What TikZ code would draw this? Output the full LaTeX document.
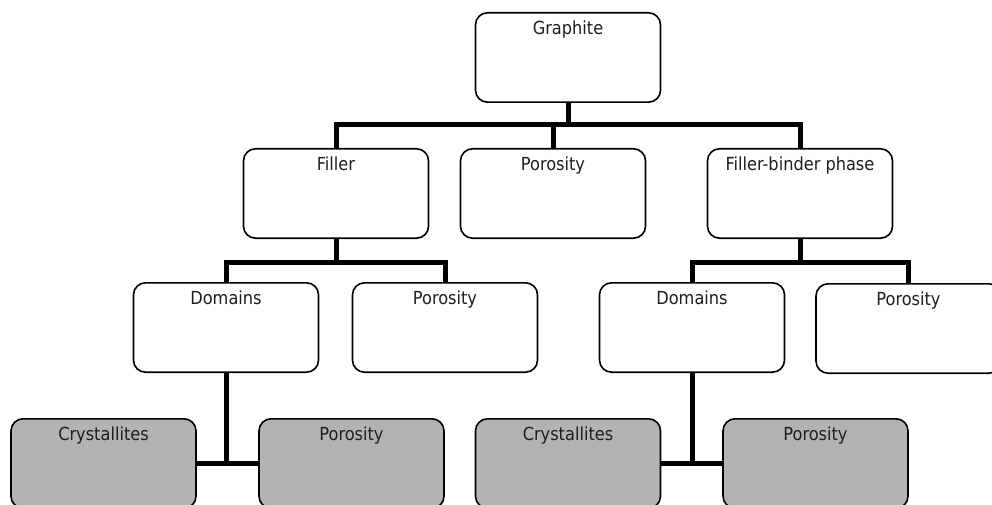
\documentclass[tikz,border=0pt]{standalone}
\usepackage{fontspec}
\setmainfont{DejaVu Sans Condensed}
\definecolor{boxgrey}{RGB}{179,179,179}
\definecolor{inkgrey}{RGB}{30,30,30}
\begin{document}
\begin{tikzpicture}[x = 1pt,y = -1pt,color = {black},
box/.style = {draw,line width = 1.6pt,rounded corners = 12pt,fill = white,minimum width = 185pt,inner sep = 0pt,
text height = 22pt,text depth = 67.4pt,font = \fontsize{18}{20}\selectfont,text = inkgrey},
greybox/.style = {box,fill = boxgrey},
link/.style = {line width = 5pt}]
\useasboundingbox (0,0) rectangle (992,505);
\coordinate (bus1) at (0,125);\coordinate (bus2) at (0,262);
\node[box] (graphite) at (568,57.5) {Graphite};
%
\node[box] (filler) at (336,193.5) {Filler};\node[box] (porosity) at (553,193.5) {Porosity};
\node[box] (fbp) at (800,193.5) {Filler-binder phase};
\draw[link] (graphite.south) -- (graphite.south |- bus1);
\draw[link] (filler.north) -- (filler.north |- bus1) -- (fbp.north |- bus1) -- (fbp.north);
\draw[link] (porosity.north) -- (porosity.north |- bus1);
%
\node[box] (domainsL) at (226,327.5) {Domains};\node[box] (porosityL) at (445,327.5) {Porosity};
\node[box] (domainsR) at (692,327.5) {Domains};\node[box] (porosityR) at (908.5,328.5) {Porosity};
\draw[link] (filler.south) -- (filler.south |- bus2);\draw[link] (fbp.south) -- (fbp.south |- bus2);
\draw[link] (domainsL.north) -- (domainsL.north |- bus2) -- (porosityL.north |- bus2) -- (porosityL.north);
\draw[link] (domainsR.north) -- (domainsR.north |- bus2) -- (porosityR.north |- bus2) -- (porosityR.north);
%
\node[greybox] (crysL) at (103.5,463.5) {Crystallites};\node[greybox] (porL) at (351.5,463.5) {Porosity};
\node[greybox] (crysR) at (568,463.5) {Crystallites};\node[greybox] (porR) at (815.5,463.5) {Porosity};
\draw[link] (crysL.east) -- (porL.west);\draw[link] (domainsL.south) -- (domainsL.south |- crysL.east);
\draw[link] (crysR.east) -- (porR.west);\draw[link] (domainsR.south) -- (domainsR.south |- crysR.east);
\end{tikzpicture}
\end{document}
